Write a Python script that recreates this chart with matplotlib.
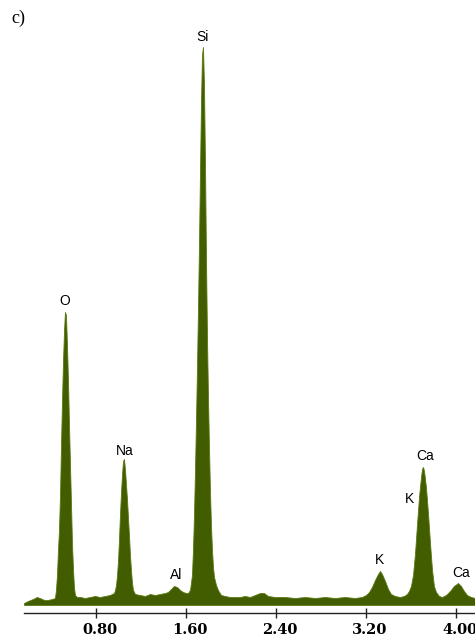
import matplotlib
matplotlib.use("Agg")
import matplotlib.pyplot as plt
import matplotlib.transforms as mtransforms

# Energy (keV) and counts (arbitrary units)
energy = [0.160, 0.195, 0.240, 0.275, 0.300, 0.340, 0.370, 0.410, 0.435,
          0.444, 0.453, 0.462, 0.471, 0.480, 0.489, 0.498, 0.507, 0.516, 0.524,
          0.533, 0.542, 0.551, 0.560, 0.569, 0.578, 0.587, 0.596, 0.604, 0.613, 0.631,
          0.658, 0.702, 0.747, 0.791, 0.836, 0.880, 0.924,
          0.960, 0.969, 0.978, 0.987, 0.996, 1.004, 1.013, 1.022, 1.031, 1.040,
          1.049, 1.058, 1.067, 1.076, 1.084, 1.093, 1.102, 1.111, 1.120, 1.129, 1.147,
          1.191, 1.236, 1.280, 1.324, 1.369, 1.413,
          1.440, 1.467, 1.493, 1.520, 1.547, 1.573, 1.600,
          1.618, 1.636, 1.653, 1.662, 1.671, 1.680, 1.689, 1.698, 1.707, 1.716,
          1.724, 1.733, 1.742, 1.751, 1.760, 1.769, 1.778, 1.787, 1.796, 1.804,
          1.813, 1.822, 1.831, 1.840, 1.849, 1.867, 1.884, 1.911,
          1.947, 1.991, 2.036, 2.080, 2.124, 2.169, 2.213, 2.258, 2.293, 2.329,
          2.391, 2.480, 2.569, 2.658, 2.747, 2.836, 2.924, 3.013, 3.102, 3.164, 3.200,
          3.227, 3.253, 3.280, 3.307, 3.324, 3.342, 3.369, 3.396, 3.422, 3.458,
          3.502, 3.538, 3.564, 3.582, 3.600, 3.618, 3.636, 3.653, 3.671, 3.689,
          3.698, 3.707, 3.716, 3.733, 3.751, 3.769, 3.787, 3.804, 3.822, 3.849, 3.876,
          3.911, 3.947, 3.982, 4.018, 4.044, 4.071, 4.098, 4.133, 4.169]
counts = [2, 4, 6, 8, 7, 5, 5, 6, 7,
          15, 30, 55, 75, 110, 160, 205, 245, 275, 293,
          290, 260, 225, 180, 140, 100, 60, 35, 18, 10, 8,
          8, 7, 8, 9, 8, 9, 10,
          12, 15, 20, 30, 45, 65, 90, 112, 130, 144,
          146, 135, 120, 105, 88, 70, 50, 35, 22, 15, 11,
          10, 9, 11, 10, 11, 12,
          13, 16, 19, 18, 15, 13, 12,
          12, 15, 30, 55, 90, 135, 185, 240, 300, 365,
          430, 500, 550, 558, 520, 440, 345, 265, 205, 160,
          115, 80, 55, 38, 28, 20, 15, 10,
          9, 8, 8, 8, 9, 8, 10, 12, 12, 9,
          8, 8, 7, 8, 7, 8, 7, 8, 7, 8, 10,
          13, 18, 25, 31, 34, 31, 24, 16, 11, 9,
          8, 9, 11, 14, 19, 30, 52, 80, 108, 128,
          136, 138, 134, 118, 92, 62, 35, 19, 13, 9, 8,
          10, 14, 19, 22, 19, 14, 10, 8, 7]

# Peak labels: element, energy (keV), label height (counts)
label_text = ["Si", "O", "Na", "Al", "K", "K", "Ca", "Ca"]
label_energy = [1.751, 0.524, 1.058, 1.511, 3.324, 3.591, 3.724, 4.044]
label_height = [568, 304, 154, 30, 45, 106, 149, 32]

tick_values = [0.80, 1.60, 2.40, 3.20, 4.00]
tick_labels = ["0.80", "1.60", "2.40", "3.20", "4.00"]

fig = plt.figure(figsize=(4.75, 6.41), dpi=100)
ax = fig.add_axes([24 / 475, 28 / 641, 451 / 475, 613 / 641])

ax.fill_between(energy, 0, counts, color="#425c00", linewidth=0.6,
                edgecolor="#5a7a10")

for t, e, h in zip(label_text, label_energy, label_height):
    ax.text(e, h, t, ha="center", va="center", fontsize=10,
            family="Liberation Sans", color="black")

ax.set_xlim(0.16, 4.169)
ax.set_ylim(-8, 605)

for s in ["top", "right", "left"]:
    ax.spines[s].set_visible(False)
ax.spines["bottom"].set_color("#222222")
ax.spines["bottom"].set_linewidth(1.0)
ax.set_yticks([])
ax.set_xticks(tick_values)
ax.set_xticklabels(tick_labels, fontsize=10.5, fontweight="bold",
                   family="DejaVu Serif")
ax.tick_params(axis="x", direction="inout", length=7, width=1.0,
               color="#222222", pad=4)
shift = mtransforms.ScaledTranslation(4 / 100, 0, fig.dpi_scale_trans)
for lbl in ax.get_xticklabels():
    lbl.set_transform(lbl.get_transform() + shift)

fig.text(11 / 475, 1 - 18 / 641, "c)", ha="left", va="center", fontsize=13,
         family="Liberation Serif")

fig.savefig("out.png", dpi=100)
